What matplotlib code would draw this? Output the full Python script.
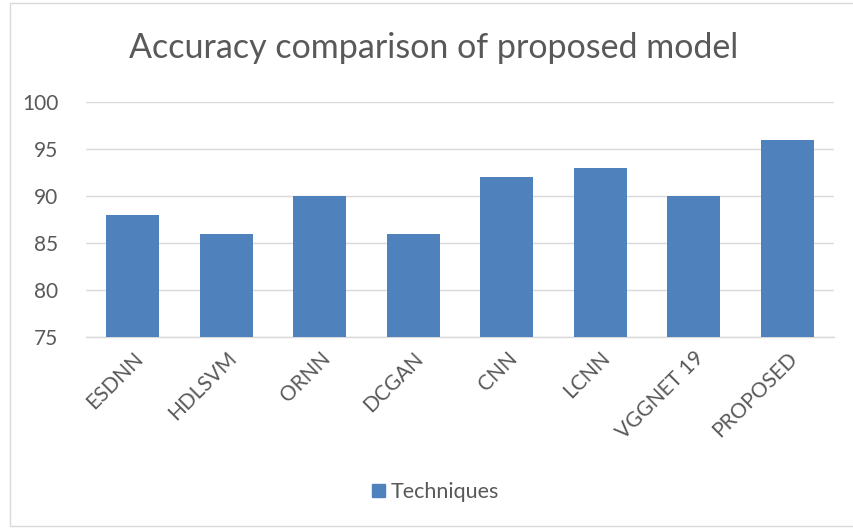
import matplotlib.pyplot as plt
from matplotlib.patches import Rectangle, Patch

# data
techniques = ['ESDNN', 'HDLSVM', 'ORNN', 'DCGAN', 'CNN', 'LCNN', 'VGGNET 19', 'PROPOSED']
accuracy = [88, 86, 90, 86, 92, 93, 90, 96]
y_ticks = [75, 80, 85, 90, 95, 100]

bar_color = '#4f81bd'
text_color = '#595959'
grid_color = '#d9d9d9'

plt.rcParams['font.family'] = ['Lato', 'DejaVu Sans']

fig = plt.figure(figsize=(8.54, 5.29), dpi=100)
fig.patches.append(Rectangle((10 / 854, 3 / 529), 1 - 10 / 854, 1 - 6 / 529,
                             transform=fig.transFigure, fill=False,
                             edgecolor=grid_color, linewidth=1))

ax = fig.add_axes([86 / 854, 1 - 337 / 529, (834 - 86) / 854, (337 - 102) / 529])
x = range(len(techniques))
ax.bar(x, accuracy, width=0.57, color=bar_color, zorder=3, label='Techniques')

ax.set_ylim(75, 100)
ax.set_xlim(-0.5, len(techniques) - 0.5)
ax.set_yticks(y_ticks)
ax.yaxis.grid(True, color=grid_color, linewidth=1, zorder=0)
for s in ['top', 'right', 'left']:
    ax.spines[s].set_visible(False)
ax.spines['bottom'].set_color(grid_color)
ax.spines['bottom'].set_linewidth(1)
ax.tick_params(axis='both', length=0, colors=text_color, labelsize=15)
ax.tick_params(axis='y', pad=20)
ax.set_xticks(list(x))
ax.set_xticklabels(techniques, rotation=45, ha='right', rotation_mode='anchor')
ax.tick_params(axis='x', pad=8)

fig.text(0.508, 1 - 48 / 529, 'Accuracy comparison of proposed model', ha='center', va='center',
         fontsize=24.5, color=text_color)

fig.legend(handles=[Patch(color=bar_color, label='Techniques')], loc='center',
           bbox_to_anchor=(0.51, 1 - 492 / 529), frameon=False, fontsize=15.5,
           labelcolor=text_color, handlelength=0.6, handleheight=0.6, handletextpad=0.3)

fig.savefig('out.png', dpi=100)
